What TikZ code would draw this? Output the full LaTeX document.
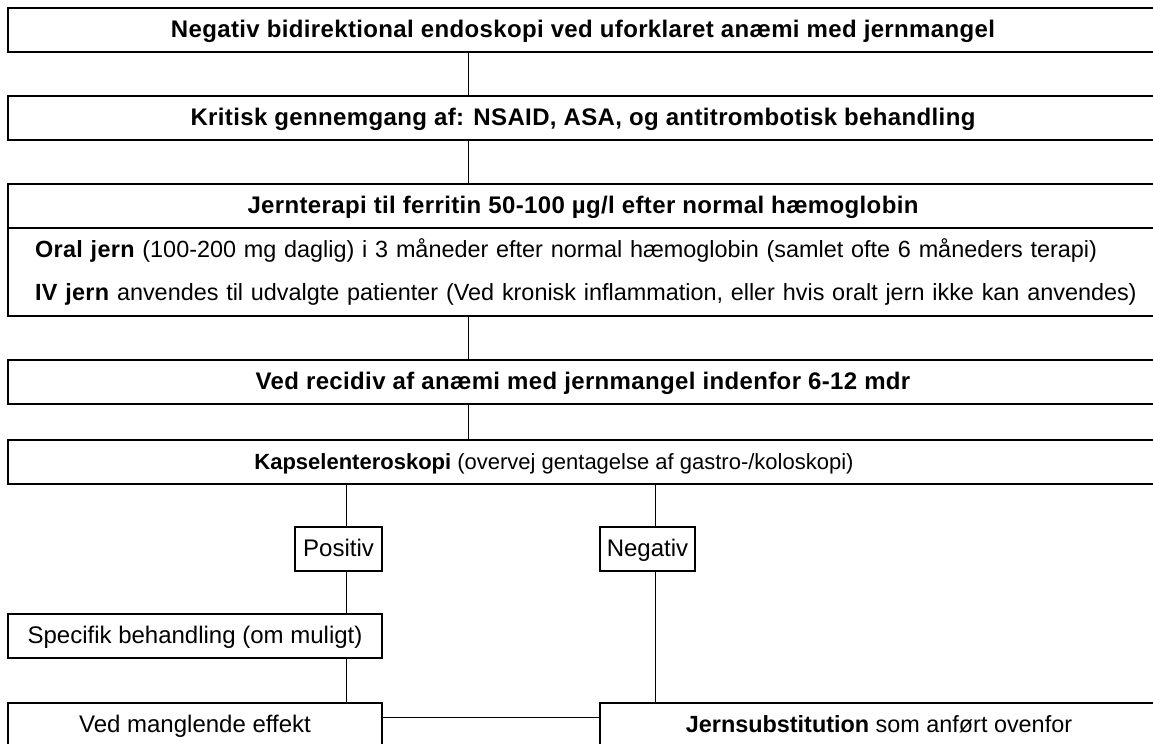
\documentclass[tikz,border=0pt]{standalone}
\usepackage{fontspec}
\setmainfont{Liberation Sans}
\newfontfamily\spaerret{Liberation Sans Bold}[LetterSpace=1.5]
\usetikzlibrary{positioning}
\tikzset{
  ramme/.style     = {draw, line width=1pt, inner sep=0pt, outer sep=0pt,
                      font=\fontsize{12}{14}\selectfont},
  kasse/.style     = {ramme, minimum height=22pt, text height=9.6pt, text depth=2pt},
  bred/.style      = {kasse, minimum width=575pt},
  overskrift/.style= {bred, font=\fontsize{12}{14}\spaerret},
  linje/.style     = {line width=0.5pt}
}

\begin{document}
\begin{tikzpicture}[x=0.5pt, y=-0.5pt]
  \useasboundingbox (0,0) rectangle (1153,744);
  \clip (0,0) rectangle (1153,744);
  \fill[white] (0,0) rectangle (1153,744);

  \node[overskrift, anchor=north west] (start) at (8,8) {Negativ bidirektional endoskopi ved uforklaret anæmi med jernmangel};
  \node[overskrift, below=22pt of start] (kritisk) {Kritisk gennemgang af: NSAID, ASA, og antitrombotisk behandling};
  \node[overskrift, below=22pt of kritisk] (jernterapi) {Jernterapi til ferritin 50-100 µg/l efter normal hæmoglobin};
  \node[ramme, below=0pt of jernterapi.south west, anchor=north west, minimum width=575pt, minimum height=44pt,
        text width=560pt, inner xsep=13.5pt, align=left, font=\fontsize{11.7}{21.5}\selectfont] (behandling)
       {{\spaerret Oral jern} (100-200 mg daglig) i 3 måneder efter normal hæmoglobin (samlet ofte 6 måneders terapi)\\
        {\spaerret IV jern} anvendes til udvalgte patienter (Ved kronisk inflammation, eller hvis oralt jern ikke kan anvendes)};
  \node[overskrift, below=22pt of behandling.south west, anchor=north west] (recidiv) {Ved recidiv af anæmi med jernmangel indenfor 6-12 mdr};
  \node[bred, below=18pt of recidiv, font=\fontsize{11}{13}\selectfont] (kapsel) {\textbf{Kapselenteroskopi} (overvej gentagelse af gastro-/koloskopi)\hspace*{29pt}};

  \node[kasse, minimum width=43.5pt, anchor=north] (positiv) at (338.5,527) {Positiv};
  \node[kasse, minimum width=47.5pt, anchor=north] (negativ) at (647.5,527) {Negativ};
  \node[kasse, minimum width=187pt, anchor=north west] (specifik) at (8,614) {Specifik behandling (om muligt)};
  \node[kasse, minimum width=187pt, anchor=north west] (manglende) at (8,703) {Ved manglende effekt};
  \node[kasse, minimum width=279pt, anchor=north west, font=\fontsize{11.7}{14}\selectfont] (substitution) at (600,703) {\textbf{Jernsubstitution} som anført ovenfor};

  % hovedforløb
  \draw[linje] ([xshift=-57.5pt]start.south) -- ([xshift=-57.5pt]kritisk.north);
  \draw[linje] ([xshift=-57.5pt]kritisk.south) -- ([xshift=-57.5pt]jernterapi.north);
  \draw[linje] ([xshift=-57.5pt]recidiv.north) -- ([xshift=-57.5pt]recidiv.north |- behandling.south);
  \draw[linje] ([xshift=-57.5pt]recidiv.south) -- ([xshift=-57.5pt]kapsel.north);

  % forgreninger
  \draw[linje] ([xshift=3.75pt]positiv.north) -- ([xshift=3.75pt]positiv.north |- kapsel.south);
  \draw[linje] ([xshift=3.75pt]positiv.south) -- ([xshift=3.75pt]positiv.south |- specifik.north);
  \draw[linje] ([xshift=3.75pt]positiv.south |- specifik.south) -- ([xshift=3.75pt]positiv.south |- manglende.north);
  \draw[linje] ([xshift=3.75pt]negativ.north) -- ([xshift=3.75pt]negativ.north |- kapsel.south);
  \draw[linje] ([xshift=3.75pt]negativ.south) -- ([xshift=3.75pt]negativ.south |- substitution.north);
  \draw[linje] ([yshift=4pt]manglende.east) -- ([yshift=4pt]substitution.west);
\end{tikzpicture}
\end{document}
